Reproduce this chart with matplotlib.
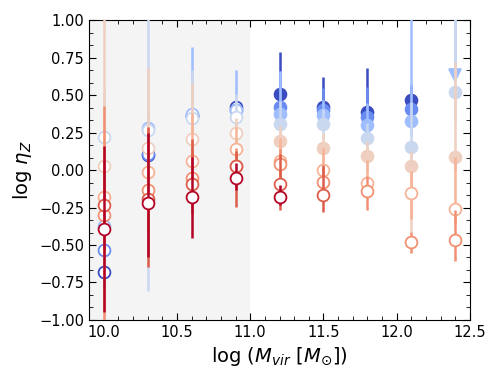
import numpy as np
import matplotlib
matplotlib.use('Agg')
import matplotlib.pyplot as plt
from matplotlib.ticker import AutoMinorLocator

nan = np.nan

# halo mass bins
log_mvir = [10.0, 10.3, 10.6, 10.9, 11.2, 11.5, 11.8, 12.1, 12.4]

# colour position of each series in coolwarm
cmap_pos = [0.0, 0.15, 0.3, 0.43, 0.58, 0.68, 0.77, 0.88, 1.0]

# log eta_Z, one row per series
log_eta = [
    [-0.68, 0.10, 0.36, 0.418, 0.505, 0.42, 0.39, 0.467, nan],
    [-0.53, 0.11, 0.37, 0.40, 0.42, 0.40, 0.355, 0.41, nan],
    [-0.37, 0.28, 0.373, 0.40, 0.371, 0.37, 0.30, 0.327, 0.633],
    [0.22, 0.27, 0.35, 0.355, 0.31, 0.31, 0.215, 0.155, 0.518],
    [0.03, 0.15, 0.205, 0.245, 0.193, 0.149, 0.093, 0.027, 0.089],
    [-0.18, -0.015, 0.06, 0.138, 0.062, 0.0, -0.084, -0.156, -0.262],
    [-0.30, -0.135, -0.055, 0.027, 0.04, -0.078, -0.14, -0.482, -0.467],
    [-0.23, -0.19, -0.093, 0.025, -0.093, -0.167, nan, nan, nan],
    [-0.39, -0.22, -0.182, -0.051, -0.182, nan, nan, nan, nan],
]

err_high = [
    [0.1, 0.05, 0.05, 0.05, 0.28, 0.2, 0.29, 0.1, nan],
    [0.1, 0.05, 0.05, 0.05, 0.24, 0.15, 0.2, 0.15, nan],
    [0.15, 0.1, 0.45, 0.27, 0.29, 0.1, 0.15, 0.7, 0.4],
    [0.3, 0.75, 0.32, 0.15, 0.15, 0.1, 0.1, 0.3, 0.5],
    [1.0, 0.53, 0.375, 0.1, 0.1, 0.1, 0.1, 0.1, 0.63],
    [0.3, 0.3, 0.32, 0.15, 0.15, 0.15, 0.15, 0.15, 0.35],
    [0.73, 0.3, 0.2, 0.12, 0.1, 0.1, 0.1, 0.07, 0.2],
    [0.3, 0.48, 0.3, 0.1, 0.2, 0.2, nan, nan, nan],
    [0.55, 0.47, 0.27, 0.1, 0.08, nan, nan, nan, nan],
]

err_low = [
    [0.1, 0.05, 0.05, 0.05, 0.1, 0.05, 0.05, 0.05, nan],
    [0.1, 0.05, 0.05, 0.05, 0.1, 0.05, 0.05, 0.05, nan],
    [0.15, 0.1, 0.1, 0.1, 0.1, 0.1, 0.1, 0.1, 0.0],
    [0.3, 1.08, 0.1, 0.1, 0.1, 0.1, 0.1, 0.15, 0.2],
    [0.5, 0.3, 0.15, 0.1, 0.1, 0.1, 0.1, 0.44, 0.1],
    [0.3, 0.3, 0.2, 0.1, 0.1, 0.1, 0.1, 0.17, 0.1],
    [0.75, 0.3, 0.2, 0.12, 0.1, 0.1, 0.127, 0.07, 0.14],
    [0.3, 0.46, 0.2, 0.27, 0.175, 0.11, nan, nan, nan],
    [0.56, 0.36, 0.27, 0.08, 0.05, nan, nan, nan, nan],
]

# filled symbols: bluer series above the shaded region
filled = [[(i <= 4 and j >= 4) for j in range(len(log_mvir))] for i in range(len(log_eta))]
# upper limits (triangle)
upper_limit = [(2, 8)]

fig = plt.figure(figsize=(5, 3.8), dpi=100)
ax = fig.add_axes([0.178, 0.158, 0.762, 0.789])

ax.axvspan(9.9, 11.0, color='#f4f4f4', zorder=0, lw=0)

cmap = plt.get_cmap('coolwarm')
for i, row in enumerate(log_eta):
    c = cmap(cmap_pos[i])
    z = 2 + i
    ax.errorbar(log_mvir, row, yerr=[err_low[i], err_high[i]], fmt='none',
                ecolor=c, elinewidth=1.8, capsize=0, zorder=z)
    for j, (xv, yv) in enumerate(zip(log_mvir, row)):
        if np.isnan(yv):
            continue
        mk = 'v' if (i, j) in upper_limit else 'o'
        fc = c if (filled[i][j] or mk == 'v') else 'white'
        ax.plot(xv, yv, marker=mk, ms=8.5, mfc=fc, mec=c, mew=1.3,
                ls='none', zorder=z)

ax.set_xlim(9.9, 12.5)
ax.set_ylim(-1.0, 1.0)
ax.set_xticks([10.0, 10.5, 11.0, 11.5, 12.0, 12.5])
ax.set_yticks(np.arange(-1.0, 1.01, 0.25))
ax.set_yticklabels([f'{v:.2f}'.replace('-', '\u2212') for v in np.arange(-1.0, 1.01, 0.25)])
ax.xaxis.set_minor_locator(AutoMinorLocator(5))
ax.yaxis.set_minor_locator(AutoMinorLocator(3))
ax.tick_params(which='both', direction='in', top=True, right=True, labelsize=10.5)
ax.tick_params(which='major', length=5)
ax.tick_params(which='minor', length=3)

ax.set_xlabel(r'log ($M_{vir}$ [$M_{\odot}$])', fontsize=14)
ax.set_ylabel(r'log $\eta_Z$', fontsize=14)

fig.savefig('out.png', dpi=100)
